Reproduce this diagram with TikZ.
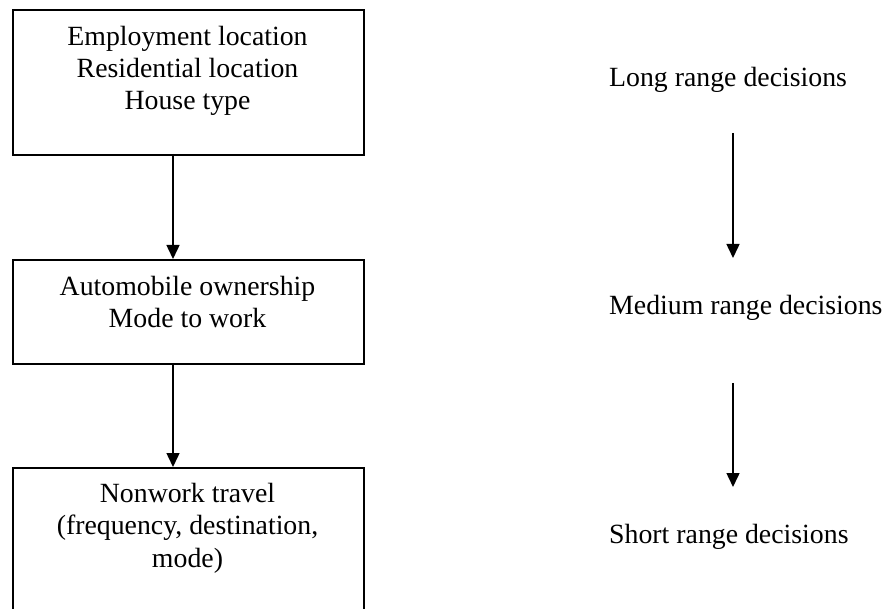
\documentclass[tikz,border=0pt]{standalone}
\usepackage{fontspec}
\setmainfont{Liberation Serif}
\usetikzlibrary{arrows.meta}
\begin{document}
\begin{tikzpicture}[x=1pt,y=-1pt,
  boxnode/.style={draw=black,line width=1.7pt,rectangle,inner sep=0pt,minimum width=351pt},
  txt/.style={font=\fontsize{27.8}{32.3}\selectfont,align=center,inner sep=0pt,anchor=base},
  sidetxt/.style={font=\fontsize{27.8}{32.3}\selectfont,inner sep=0pt,anchor=base west},
  arr/.style={line width=1.5pt,-{Triangle[length=14pt,width=13pt]}}]
\useasboundingbox (0,0) rectangle (886,609);
\clip (0,0) rectangle (886,609);
\node[boxnode,minimum height=145pt,anchor=north west] (b1) at (12,9) {};
\node[boxnode,minimum height=104pt,anchor=north west] (b2) at (12,259) {};
\node[boxnode,minimum height=200pt,anchor=north west] (b3) at (12,467) {};
\node[txt] (t1) at (187.5,110) {Employment location\\Residential location\\House type};
\node[txt] (t2) at (187.5,328) {Automobile ownership\\Mode to work};
\node[txt] (t3) at (187.5,567) {Nonwork travel\\(frequency, destination,\\mode)};
\node[sidetxt] (long) at (609,87) {Long range decisions};
\node[sidetxt] (med) at (609,315) {Medium range decisions};
\node[sidetxt] (short) at (609,543) {Short range decisions};
\coordinate (b1s) at (173,154);
\coordinate (b2n) at (173,259);
\coordinate (b2s) at (173,363);
\coordinate (b3n) at (173,467);
\coordinate (r1a) at (733,133);
\coordinate (r1b) at (733,258);
\coordinate (r2a) at (733,383);
\coordinate (r2b) at (733,487);
\draw[arr] (b1s) -- (b2n);
\draw[arr] (b2s) -- (b3n);
\draw[arr] (r1a) -- (r1b);
\draw[arr] (r2a) -- (r2b);
\end{tikzpicture}
\end{document}
